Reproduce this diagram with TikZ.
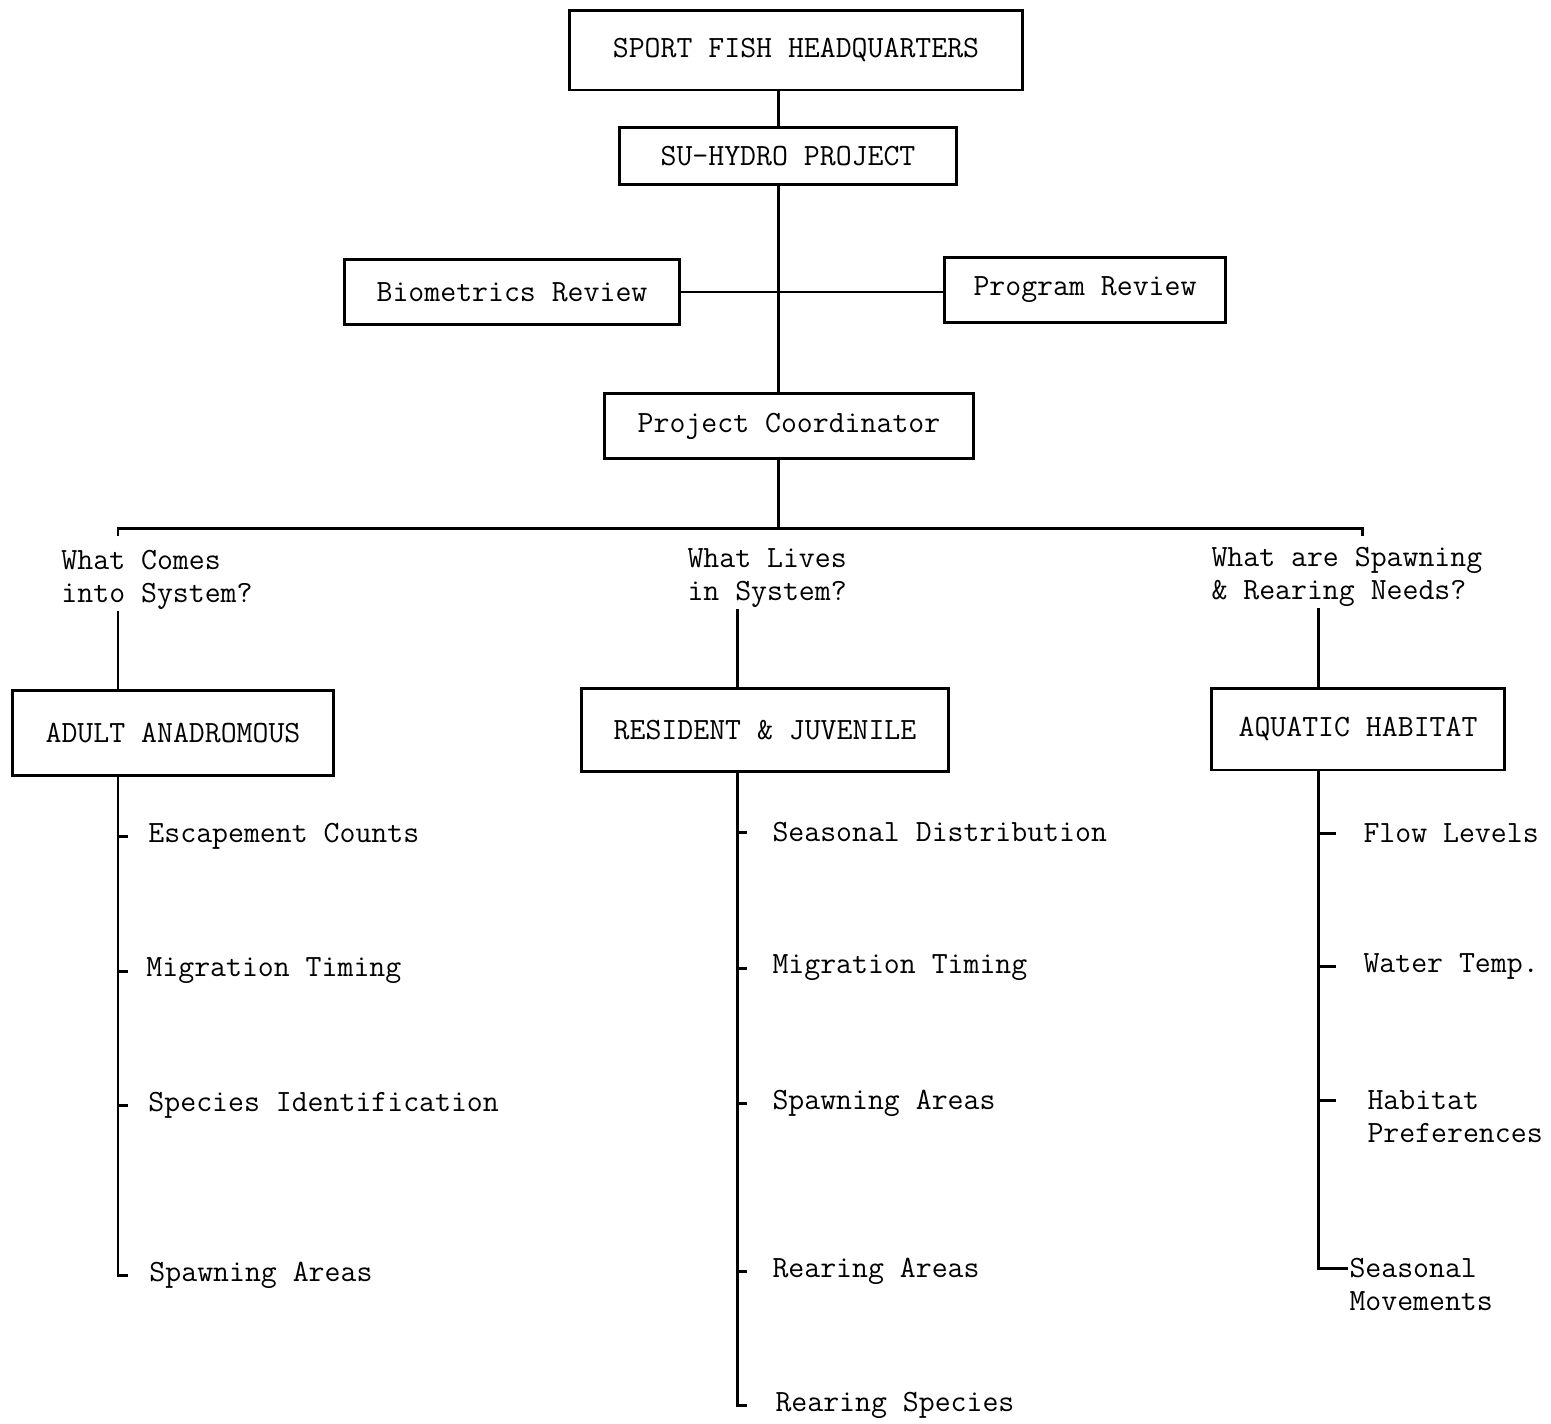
\documentclass[tikz,border=0pt]{standalone}
\usetikzlibrary{calc}

\begin{document}
\begin{tikzpicture}[x=0.02cm, y=-0.02cm, line width=1.7pt,
    box/.style={draw, line width=1.7pt, inner sep=0pt, font=\ttfamily\fontsize{17.6}{18.7}\selectfont},
    txt/.style={inner sep=0pt, align=left, font=\ttfamily\fontsize{17.6}{18.7}\selectfont}]

    \useasboundingbox (0,0) rectangle (1551,1423);

    % spine positions
    \coordinate (trunk) at (778,0);
    \coordinate (sl) at (118,0);
    \coordinate (sm) at (737,0);
    \coordinate (sr) at (1318,0);
    \coordinate (barL) at (118,528);
    \coordinate (barR) at (1362,528);

    \node[box, minimum width=9.08cm, minimum height=1.6cm] (hq) at (796,50) {SPORT FISH HEADQUARTERS};
    \node[box, minimum width=6.76cm, minimum height=1.14cm] (su) at (788,156) {SU-HYDRO PROJECT};
    \node[box, minimum width=6.7cm, minimum height=1.3cm] (bio) at (512,292) {Biometrics Review};
    \node[box, minimum width=5.64cm, minimum height=1.3cm] (prog) at (1085,290) {Program Review};
    \node[box, minimum width=7.4cm, minimum height=1.3cm] (pc) at (789,426) {Project Coordinator};

    \node[txt, anchor=west] (q1) at (60,580) {What Comes\\into System?};
    \node[txt, anchor=west] (q2) at (686,578) {What Lives\\in System?};
    \node[txt, anchor=west] (q3) at (1210,577) {What are Spawning\\\& Rearing Needs?};

    \node[box, minimum width=6.44cm, minimum height=1.7cm] (aa) at (173,733) {ADULT ANADROMOUS};
    \node[box, minimum width=7.34cm, minimum height=1.66cm] (rj) at (765,730) {RESIDENT \& JUVENILE};
    \node[box, minimum width=5.88cm, minimum height=1.64cm] (ah) at (1358,729) {AQUATIC HABITAT};

    % adult anadromous
    \node[txt, anchor=west] (a1) at (147,836) {Escapement Counts};
    \node[txt, anchor=west] (a2) at (145,971) {Migration Timing};
    \node[txt, anchor=west] (a3) at (147,1105) {Species Identification};
    \node[txt, anchor=west] (a4) at (148,1275) {Spawning Areas};

    % resident & juvenile
    \node[txt, anchor=west] (m1) at (771,832) {Seasonal Distribution};
    \node[txt, anchor=west] (m2) at (771,968) {Migration Timing};
    \node[txt, anchor=west] (m3) at (771,1103) {Spawning Areas};
    \node[txt, anchor=west] (m4) at (771,1271) {Rearing Areas};
    \node[txt, anchor=west] (m5) at (774,1405) {Rearing Species};

    % aquatic habitat
    \node[txt, anchor=west] (h1) at (1362,833) {Flow Levels};
    \node[txt, anchor=west] (h2) at (1362,966) {Water Temp.};
    \node[txt, anchor=north west] (h3) at (1366,1089) {Habitat\\Preferences};
    \node[txt, anchor=north west] (h4) at (1348,1257) {Seasonal\\Movements};

    % upper chart
    \draw (trunk |- hq.south) -- (trunk |- su.north);
    \draw (trunk |- su.south) -- (trunk |- pc.north);
    \draw (bio.east) -- (bio.east -| prog.west);
    \draw (trunk |- pc.south) -- (trunk |- barL);
    \draw (barL) ++(0,8) -- (barL) -- (barR) -- ++(0,8);

    \draw (sl |- q1.south) -- (sl |- aa.north);
    \draw (sm |- q2.south) -- (sm |- rj.north);
    \draw (sr |- q3.south) -- (sr |- ah.north);

    % spines
    \draw (sl |- aa.south) -- (sl |- a4.west) -- ++(10,0);
    \foreach \n in {a1,a2,a3}
        \draw (sl |- \n.west) -- ++(10,0);

    \draw (sm |- rj.south) -- (sm |- m5.west) -- ++(10,0);
    \foreach \n in {m1,m2,m3,m4}
        \draw (sm |- \n.west) -- ++(10,0);

    \draw (sr |- ah.south) -- (sr |- 0,1268) -- (h4.west |- 0,1268);
    \foreach \n in {h1,h2}
        \draw (sr |- \n.west) -- ++(18,0);
    \draw (sr |- h3.north) ++(0,11) -- ++(18,0);

\end{tikzpicture}
\end{document}
